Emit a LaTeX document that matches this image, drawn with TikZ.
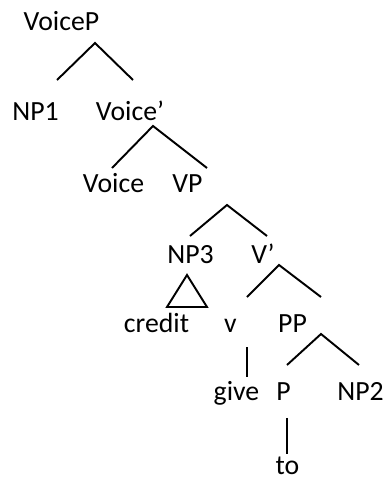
\documentclass[tikz,border=0pt]{standalone}
\usepackage{fontspec}
\setmainfont{Carlito}
\usepackage{tikz}
\tikzset{>=latex}
\tikzset{lab/.style={anchor=base, inner sep=0pt, font=\fontsize{15.8pt}{19pt}\selectfont}}
\tikzset{branch/.style={line width=1.1pt}}

\begin{document}
\begin{tikzpicture}[scale=1]
\useasboundingbox (0, 0) rectangle (7.72, 9.6);

\node[lab] (VoiceP) at (1.23, 9.0) {VoiceP};
\node[lab] (NPone) at (0.71, 7.2) {NP1};
\node[lab] (Voicebar) at (2.6, 7.2) {Voice’};
\node[lab] (Voice) at (2.27, 5.76) {Voice};
\node[lab] (VP) at (3.75, 5.76) {VP};
\node[lab] (NPthree) at (3.81, 4.34) {NP3};
\node[lab] (Vbar) at (5.26, 4.34) {V’};
\node[lab] (credit) at (3.13, 2.94) {credit};
\node[lab] (v) at (4.61, 2.94) {v};
\node[lab] (PP) at (5.85, 2.94) {PP};
\node[lab] (give) at (4.73, 1.6) {give};
\node[lab] (P) at (5.67, 1.6) {P};
\node[lab] (NPtwo) at (7.21, 1.6) {NP2};
\node[lab] (to) at (5.75, 0.1) {to};

\coordinate (VoicePtop) at (1.90, 8.74);
\coordinate (VoicePl) at (1.14, 8.0);
\coordinate (VoicePr) at (2.66, 8.0);
\coordinate (Voicebartop) at (3.06, 7.08);
\coordinate (Voicebarl) at (2.24, 6.24);
\coordinate (Voicebarr) at (4.14, 6.24);
\coordinate (VPtop) at (4.54, 5.5);
\coordinate (VPl) at (3.8, 4.88);
\coordinate (VPr) at (5.34, 4.88);
\coordinate (NPthreetop) at (3.74, 4.1);
\coordinate (NPthreel) at (3.34, 3.46);
\coordinate (NPthreer) at (4.14, 3.46);
\coordinate (Vbartop) at (5.58, 4.3);
\coordinate (Vbarl) at (4.94, 3.66);
\coordinate (Vbarr) at (6.42, 3.66);
\coordinate (vtop) at (4.94, 2.66);
\coordinate (vbot) at (4.94, 2.06);
\coordinate (PPtop) at (6.42, 2.92);
\coordinate (PPl) at (5.74, 2.3);
\coordinate (PPr) at (7.18, 2.3);
\coordinate (Ptop) at (5.74, 1.24);
\coordinate (Pbot) at (5.74, 0.52);

\draw[branch] (VoicePl) -- (VoicePtop) -- (VoicePr);
\draw[branch] (Voicebarl) -- (Voicebartop) -- (Voicebarr);
\draw[branch] (VPl) -- (VPtop) -- (VPr);
\draw[branch] (NPthreel) -- (NPthreetop) -- (NPthreer) -- cycle;
\draw[branch] (Vbarl) -- (Vbartop) -- (Vbarr);
\draw[branch] (vtop) -- (vbot);
\draw[branch] (PPl) -- (PPtop) -- (PPr);
\draw[branch] (Ptop) -- (Pbot);

\end{tikzpicture}
\end{document}
